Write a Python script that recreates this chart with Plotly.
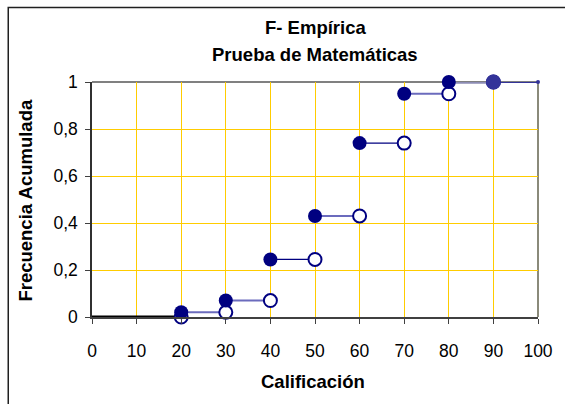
import plotly.graph_objects as go

# ---- data ----
seg_start = [0, 20, 30, 40, 50, 60, 70, 80, 90]
seg_end = [20, 30, 40, 50, 60, 70, 80, 90, 100]
F_values = [0.0, 0.02, 0.07, 0.245, 0.43, 0.74, 0.95, 1.0, 1.0]
x_ticks = [0, 10, 20, 30, 40, 50, 60, 70, 80, 90, 100]
y_ticks = [0, 0.2, 0.4, 0.6, 0.8, 1]
title_lines = ["F- Empírica", "Prueba de Matemáticas"]
x_title = "Calificación"
y_title = "Frecuencia Acumulada"

# ---- styles ----
FONT = "Liberation Sans, Arial, sans-serif"
NAVY = "#000080"
GOLD = "#FFCC00"
seg_colors = ["#000000", "#6b6bbd", "#6b6bbd", "#000080", "#6b6bbd",
              "#000080", "#6b6bbd", "#8d8db5", "#333399"]
seg_widths = [3, 2, 2, 1.2, 2, 1.2, 2, 3.5, 2]

W, H = 565, 404
L, T = 92, 82
pw, ph = 450, 235
R, B = W - L - pw, H - T - ph


def px_x(p):
    return (p - L) / pw


def px_y(p):
    return (H - B - p) / ph


fig = go.Figure()

# segments
for i in range(len(seg_start)):
    fig.add_trace(go.Scatter(
        x=[seg_start[i], seg_end[i]], y=[F_values[i], F_values[i]],
        mode="lines", line=dict(color=seg_colors[i], width=seg_widths[i]),
        cliponaxis=False, showlegend=False, hoverinfo="skip"))

# small end dot at the last segment end
fig.add_trace(go.Scatter(
    x=[seg_end[-1]], y=[F_values[-1]], mode="markers",
    marker=dict(size=4, color="#333399", opacity=1), cliponaxis=False,
    showlegend=False, hoverinfo="skip"))

# open circles (right ends)
fig.add_trace(go.Scatter(
    x=seg_end[:-1], y=F_values[:-1], mode="markers",
    marker=dict(size=13, color="white", opacity=1,
                line=dict(color=NAVY, width=2)),
    cliponaxis=False, showlegend=False, hoverinfo="skip"))

# filled circles (left ends)
fill_colors = [NAVY] * (len(seg_start) - 2) + ["#333399"]
fill_sizes = [14] * (len(seg_start) - 2) + [15]
fig.add_trace(go.Scatter(
    x=seg_start[1:], y=F_values[1:], mode="markers",
    marker=dict(size=fill_sizes, color=fill_colors, opacity=1,
                line=dict(width=0)),
    cliponaxis=False, showlegend=False, hoverinfo="skip"))

shapes = [
    # top and right plot border
    dict(type="line", xref="paper", yref="paper", x0=0, x1=1, y0=1, y1=1,
         line=dict(color="#808080", width=2), layer="below"),
    dict(type="line", xref="paper", yref="paper", x0=1, x1=1, y0=0, y1=1,
         line=dict(color="#8a8a7a", width=2), layer="below"),
    # outer chart frame
    dict(type="rect", xref="paper", yref="paper",
         x0=px_x(7.5), x1=px_x(580), y0=px_y(420), y1=px_y(7.5),
         line=dict(color="#202020", width=1.5), layer="below"),
]

title_font = dict(family=FONT, size=18.5, color="black")
annotations = [
    dict(text="<b>" + title_lines[0] + "</b>", xref="paper", yref="paper",
         x=px_x(317), y=px_y(28), showarrow=False, font=title_font,
         xanchor="center", yanchor="middle"),
    dict(text="<b>" + title_lines[1] + "</b>", xref="paper", yref="paper",
         x=px_x(317), y=px_y(54), showarrow=False, font=title_font,
         xanchor="center", yanchor="middle"),
    dict(text="<b>" + x_title + "</b>", xref="paper", yref="paper",
         x=px_x(315), y=px_y(381), showarrow=False, font=title_font,
         xanchor="center", yanchor="middle"),
    dict(text="<b>" + y_title + "</b>", xref="paper", yref="paper",
         x=px_x(24), y=px_y(200), showarrow=False, font=title_font,
         xanchor="center", yanchor="middle", textangle=-90),
]

fig.update_layout(
    width=W, height=H,
    margin=dict(l=L, r=R, t=T, b=B),
    paper_bgcolor="white", plot_bgcolor="white",
    separators=",.",
    font=dict(family=FONT, size=17.5, color="black"),
    shapes=shapes, annotations=annotations,
    xaxis=dict(range=[0, 100], tickvals=x_ticks, showgrid=True,
               gridcolor=GOLD, gridwidth=1, zeroline=False,
               showline=True, linecolor="#404040", linewidth=2,
               ticks="outside", ticklen=5, tickcolor="#404040",
               ticklabelstandoff=12, fixedrange=True),
    yaxis=dict(range=[0, 1], tickvals=y_ticks, showgrid=True,
               gridcolor=GOLD, gridwidth=1, zeroline=False,
               showline=True, linecolor="#303030", linewidth=1.5,
               ticks="outside", ticklen=5, tickcolor="#404040",
               ticklabelstandoff=4, fixedrange=True),
)

fig.write_html("out.html",
               config={"displayModeBar": False},
               post_script="document.body.style.margin='0px';")
